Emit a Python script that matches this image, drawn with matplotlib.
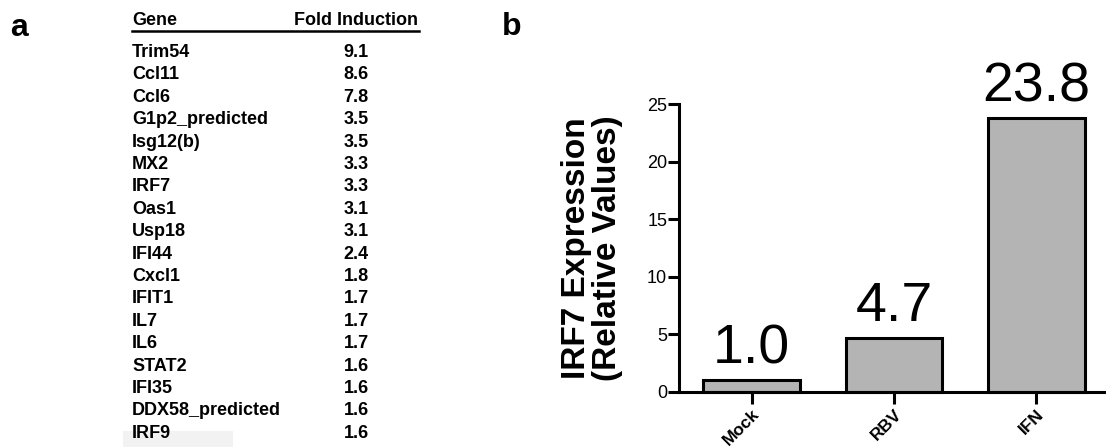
import matplotlib.pyplot as plt
from matplotlib.patches import Rectangle

# table data (panel a)
genes = ["Trim54", "Ccl11", "Ccl6", "G1p2_predicted", "Isg12(b)", "MX2", "IRF7",
         "Oas1", "Usp18", "IFI44", "Cxcl1", "IFIT1", "IL7", "IL6", "STAT2",
         "IFI35", "DDX58_predicted", "IRF9"]
fold = ["9.1", "8.6", "7.8", "3.5", "3.5", "3.3", "3.3", "3.1", "3.1", "2.4",
        "1.8", "1.7", "1.7", "1.7", "1.6", "1.6", "1.6", "1.6"]

# bar data (panel b)
groups = ["Mock", "RBV", "IFN"]
irf7 = [1.0, 4.7, 23.8]

plt.rcParams['font.family'] = ['Liberation Sans', 'DejaVu Sans']

W, H = 1106, 447
fig = plt.figure(figsize=(W / 100, H / 100), dpi=100)


def fx(x):
    return x / W


def fy(y):
    return 1 - y / H


# panel labels
fig.text(fx(10), fy(36), "a", fontsize=23, fontweight='bold', va='baseline')
fig.text(fx(502), fy(35), "b", fontsize=23, fontweight='bold', va='baseline')

# --- panel a: table ---
fig.text(fx(132), fy(25), "Gene", fontsize=13, fontweight='bold', va='baseline')
fig.text(fx(418), fy(25), "Fold Induction", fontsize=13, fontweight='bold',
         va='baseline', ha='right')
fig.add_artist(plt.Line2D([fx(132), fx(419)], [fy(30.5), fy(30.5)],
                          color='black', lw=1.8))
for i, (g, v) in enumerate(zip(genes, fold)):
    yb = 57 + i * 22.4
    fig.text(fx(132), fy(yb), g, fontsize=13, fontweight='bold', va='baseline')
    fig.text(fx(356), fy(yb), v, fontsize=13, fontweight='bold', va='baseline',
             ha='center')

# faint scan artifact under the table
fig.add_artist(Rectangle((fx(123), fy(447)), fx(110), 16 / H, color='#f2f2f2',
                         lw=0, zorder=0))

# --- panel b: bar chart ---
ax = fig.add_axes([fx(679), fy(392), 1 - fx(679), (392 - 104) / H])
x = range(len(groups))
ax.bar(x, irf7, width=0.68, color='#b4b4b4', edgecolor='black', linewidth=2.2,
       clip_on=False)
for xi, v in zip(x, irf7):
    ax.annotate(f"{v:.1f}", (xi, v), xytext=(0, 12), textcoords='offset points',
                ha='center', va='baseline', fontsize=40, annotation_clip=False)

ax.set_xlim(-0.51, 2.49)
ax.set_ylim(0, 25)
ax.set_yticks([0, 5, 10, 15, 20, 25])
ax.set_xticks(list(x))
ax.set_xticklabels(groups, rotation=45, ha='right', rotation_mode='anchor',
                   fontsize=12.5, fontweight='bold')
ax.tick_params(axis='y', length=8, width=2.2, labelsize=13, pad=0.5)
ax.tick_params(axis='x', length=8.5, width=2.2, pad=2)
for s in ['top', 'right']:
    ax.spines[s].set_visible(False)
for s in ['left', 'bottom']:
    ax.spines[s].set_linewidth(2.2)
ax.set_ylabel("IRF7 Expression\n(Relative Values)", fontsize=24,
              fontweight='bold', linespacing=1.0)
ax.yaxis.set_label_coords(-0.13, 0.5)

fig.savefig("out.png", dpi=100)
